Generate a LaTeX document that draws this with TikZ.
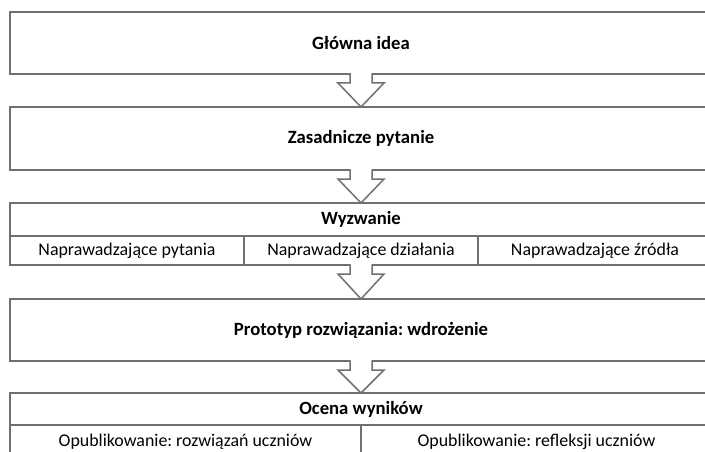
\documentclass[tikz,border=0pt]{standalone}
\usepackage{fontspec}
\setmainfont{Carlito}
\usetikzlibrary{calc}
\frenchspacing

\definecolor{ramka}{RGB}{112,112,112}

% arrow between two boxes
\newcommand{\strzalka}[2]{%
  \fill[white] let \p1=(#1.south), \p2=(#2.north) in
    (\x1-11pt,\y1+1pt) -- (\x1-11pt,\y1-9pt) -- (\x1-23pt,\y1-9pt) -- (\x2,\y2)
    -- (\x1+23pt,\y1-9pt) -- (\x1+11pt,\y1-9pt) -- (\x1+11pt,\y1+1pt) -- cycle;
  \draw[linia] let \p1=(#1.south), \p2=(#2.north) in
    (\x1-11pt,\y1+0.75pt) -- (\x1-11pt,\y1-9pt) -- (\x1-23pt,\y1-9pt) -- (\x2,\y2)
    -- (\x1+23pt,\y1-9pt) -- (\x1+11pt,\y1-9pt) -- (\x1+11pt,\y1+0.75pt);
}

\begin{document}
\begin{tikzpicture}[x=1pt, y=-1pt,
  linia/.style={draw=ramka, line width=1.5pt},
  blok/.style={linia, fill=white, minimum width=702, minimum height=#1,
    inner sep=0pt, outer sep=0pt, font=\fontsize{18.7}{22}\selectfont\bfseries},
  komorka/.style={linia, fill=white, minimum width=#1, minimum height=30,
    inner sep=0pt, outer sep=0pt, font=\fontsize{17.9}{21}\selectfont}]

% Parameters
\def\cx{361}     % middle of the boxes
\def\cw{234}     % width of a third

\clip (0,0) rectangle (705,452);

% Main boxes
\node[blok=62] (idea) at (\cx,43) {Główna idea};
\node[blok=63] (pytanie) at (\cx,138.5) {Zasadnicze pytanie};
\node[blok=33] (wyzwanie) at (\cx,219.5) {Wyzwanie};
\node[blok=62] (prototyp) at (\cx,330) {Prototyp rozwiązania: wdrożenie};
\node[blok=32] (ocena) at (\cx,409) {Ocena wyników};

% Row under Wyzwanie
\node[komorka=\cw, minimum height=29] (pyt) at (\cx-\cw,250.5) {Naprawadzające pytania};
\node[komorka=\cw, minimum height=29] (dzial) at (\cx,250.5) {Naprawadzające działania};
\node[komorka=\cw, minimum height=29] (zrodla) at (\cx+\cw,250.5) {Naprawadzające źródła};

% Row under Ocena wyników
\node[komorka=351, minimum height=33] (rozw) at (\cx-175.5,441.5) {Opublikowanie: rozwiązań uczniów};
\node[komorka=351, minimum height=33] (refl) at (\cx+175.5,441.5) {Opublikowanie: refleksji uczniów};

% Arrows
\strzalka{idea}{pytanie}
\strzalka{pytanie}{wyzwanie}
\strzalka{dzial}{prototyp}
\strzalka{prototyp}{ocena}

\end{tikzpicture}
\end{document}
